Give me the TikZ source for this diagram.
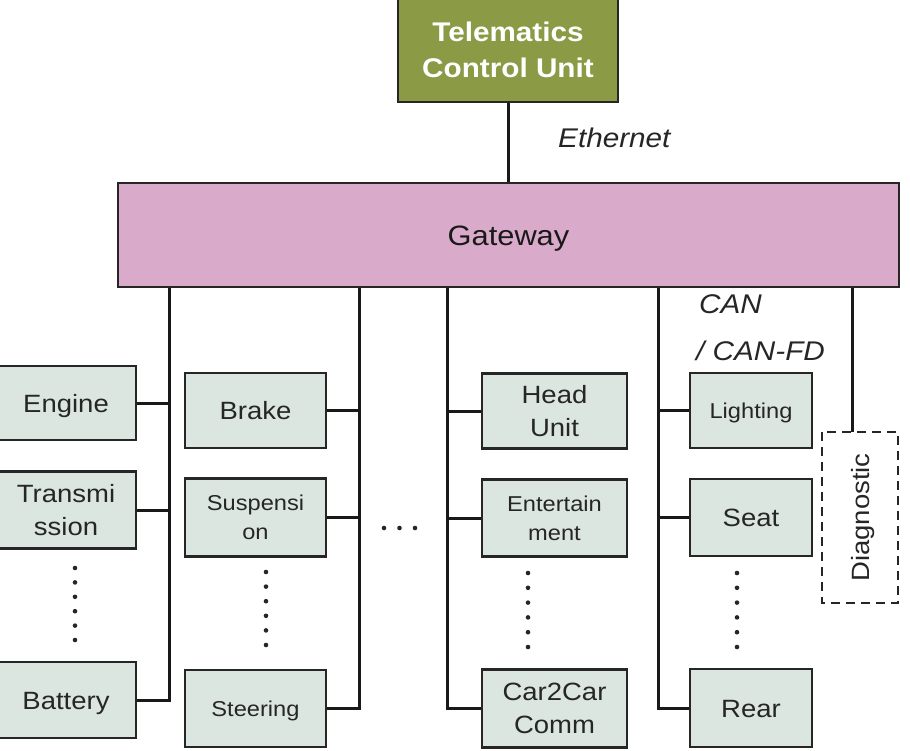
\documentclass[tikz,border=0pt]{standalone}
\usepackage{fontspec}
\setmainfont{Liberation Sans}[FakeStretch=1.1]
\definecolor{linec}{HTML}{262626}
\definecolor{boxc}{HTML}{DCE6E0}
\definecolor{tcuc}{HTML}{8A9A45}
\definecolor{gwc}{HTML}{D9AACA}
\begin{document}
\begin{tikzpicture}[x=1pt,y=-1pt,
  box/.style={draw=linec, line width=2.5pt, fill=boxc, rectangle, inner sep=0pt, align=center, text=black!85},
  bigt/.style={font=\fontsize{25}{33}\selectfont},
  smallt/.style={font=\fontsize{21.5}{29}\selectfont},
  onebig/.style={text height=18pt, text depth=0pt},
  onesmall/.style={text height=15.4pt, text depth=0pt},
  bus/.style={draw=black!90, line width=3pt},
  lbl/.style={font=\itshape\fontsize{27}{30}\selectfont, text=black!85, inner sep=0pt},
  dotmark/.style={fill=black!85}]
\useasboundingbox (0,0) rectangle (910,750);
\clip (0,0) rectangle (910,750);
\fill[white] (0,0) rectangle (910,750);

% top
\node[box, fill=tcuc, minimum width=220pt, minimum height=104pt, text=white,
      font=\bfseries\fontsize{27}{36}\selectfont] (tcu) at (508,50) {Telematics\\Control Unit};
\node[box, fill=gwc, minimum width=781pt, minimum height=104pt, text height=20pt, text depth=0pt,
      font=\fontsize{28}{30}\selectfont, text=black!90] (gw) at (508.5,235) {Gateway};
\draw[bus] (tcu.south) -- (tcu.south |- gw.north);
\node[lbl, anchor=west] (eth) at (558,138) {Ethernet};

% column 1
\node[box, bigt, onebig, minimum width=140pt, minimum height=74pt] (engine) at (66,403) {Engine};
\node[box, bigt, minimum width=140pt, minimum height=77pt] (trans) at (66,510) {Transmi\\ssion};
\node[box, bigt, onebig, minimum width=140pt, minimum height=76pt] (battery) at (66,700) {Battery};
% column 2
\node[box, bigt, onebig, minimum width=141pt, minimum height=75pt] (brake) at (255.5,410.5) {Brake};
\node[box, smallt, minimum width=141pt, minimum height=78pt] (susp) at (255.5,517.5) {Suspensi\\on};
\node[box, smallt, onesmall, minimum width=141pt, minimum height=77pt] (steer) at (255.5,708.5) {Steering};
% column 3
\node[box, bigt, minimum width=145pt, minimum height=75pt] (head) at (554.5,411) {Head\\Unit};
\node[box, smallt, minimum width=145pt, minimum height=77pt] (ent) at (554.5,518) {Entertain\\ment};
\node[box, bigt, minimum width=145pt, minimum height=78pt] (ctc) at (554.5,708.5) {Car2Car\\Comm};
% column 4
\node[box, smallt, onesmall, minimum width=122pt, minimum height=75pt] (light) at (751,410.5) {Lighting};
\node[box, bigt, onebig, minimum width=122pt, minimum height=77pt] (seat) at (751,517.5) {Seat};
\node[box, bigt, onebig, minimum width=122pt, minimum height=78pt] (rear) at (751,708) {Rear};
% diagnostic
\node[box, fill=white, dashed, dash pattern=on 9pt off 6pt, rotate=90, onebig,
      minimum width=171pt, minimum height=76pt, bigt, text=black!85] (diag) at (860,517.5) {Diagnostic};

% buses
\coordinate (b1) at (169,500);
\coordinate (b2) at (359,500);
\coordinate (b3) at (447,500);
\coordinate (b4) at (658,500);
\coordinate (dl) at (852,432);

\draw[bus] (gw.south -| b1) |- (battery.east);
\draw[bus] (engine.east) -- (engine.east -| b1);
\draw[bus] (trans.east) -- (trans.east -| b1);

\draw[bus] (gw.south -| b2) |- (steer.east);
\draw[bus] (brake.east) -- (brake.east -| b2);
\draw[bus] (susp.east) -- (susp.east -| b2);

\draw[bus] (gw.south -| b3) |- (ctc.west);
\draw[bus] (head.west) -- (head.west -| b3);
\draw[bus] (ent.west) -- (ent.west -| b3);

\draw[bus] (gw.south -| b4) |- (rear.west);
\draw[bus] (light.west) -- (light.west -| b4);
\draw[bus] (seat.west) -- (seat.west -| b4);

\draw[bus] (gw.south -| dl) -- (dl);

\node[lbl, anchor=west] (can1) at (699,304) {CAN};
\node[lbl, anchor=west] (can2) at (696,351) {/ CAN-FD};

% dots
\foreach \i in {0,...,5} {
  \fill[dotmark] (75,568+14.4*\i) circle (2.3);
  \fill[dotmark] (266,572+14.6*\i) circle (2.3);
  \fill[dotmark] (528,573+14.8*\i) circle (2.3);
  \fill[dotmark] (737,573+14.8*\i) circle (2.3);
}
\foreach \i in {0,1,2} {
  \fill[dotmark] (384+15.5*\i,528) circle (2.3);
}
\end{tikzpicture}
\end{document}
